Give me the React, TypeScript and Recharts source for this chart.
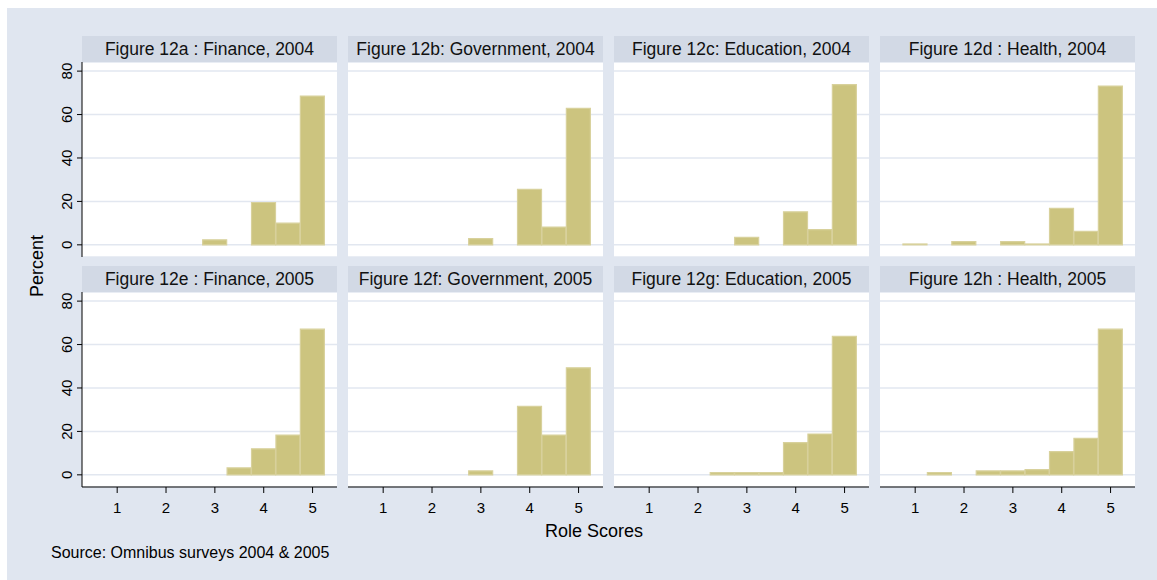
import { BarChart, Bar, XAxis, YAxis, CartesianGrid } from 'recharts'

// histogram bins (role score), half-point wide
const bins = [1, 1.5, 2, 2.5, 3, 3.5, 4, 4.5, 5]
const xTicks = [1, 2, 3, 4, 5]
const yTicks = [0, 20, 40, 60, 80]

const titles = [
  'Figure 12a : Finance, 2004',
  'Figure 12b: Government, 2004',
  'Figure 12c: Education, 2004',
  'Figure 12d : Health, 2004',
  'Figure 12e : Finance, 2005',
  'Figure 12f: Government, 2005',
  'Figure 12g: Education, 2005',
  'Figure 12h : Health, 2005',
]

// percent per bin, null = no bar
const finance2004 = [null, null, null, null, 2.3, null, 19.5, 10.0, 68.5]
const government2004 = [null, null, null, null, 2.9, null, 25.5, 8.2, 62.9]
const education2004 = [null, null, null, null, 3.5, null, 15.2, 7.0, 73.8]
const health2004 = [0.4, null, 1.5, null, 1.5, 0.4, 16.8, 6.2, 73.1]
const finance2005 = [null, null, null, null, null, 3.2, 12.0, 18.3, 67.1]
const government2005 = [null, null, null, null, 1.8, null, 31.5, 18.3, 49.3]
const education2005 = [null, null, null, 1.0, 1.0, 1.0, 14.8, 18.8, 63.8]
const health2005 = [null, 1.0, null, 1.8, 1.8, 2.4, 10.7, 16.8, 67.1]

const series = [
  finance2004, government2004, education2004, health2004,
  finance2005, government2005, education2005, health2005,
]

const FONT = '"Liberation Sans", Arial, sans-serif'
const BG = '#E0E6F0'
const HEADER_BG = '#D2D9E5'
const GRID = '#E2E7F0'
const BAR_FILL = '#CCC47F'
const BAR_LINE = '#D8D19C'

const PLOT_LEFT = 82
const PLOT_STEP = 266
const PLOT_W = 255
const PLOT_H = 195
const HEADER_H = 26
const ROW_TOP = [62, 292]
const Y_AXIS_W = 60
const X_AXIS_H = 40

function RotatedTick(props: any) {
  const { x, y, payload } = props
  return (
    <text
      x={x}
      y={y}
      transform={`rotate(-90 ${x} ${y})`}
      textAnchor="middle"
      fontSize={15}
      fontFamily={FONT}
      fill="#000"
    >
      {payload.value}
    </text>
  )
}

function Panel({ idx }: { idx: number }) {
  const col = idx % 4
  const row = Math.floor(idx / 4)
  const showY = col === 0
  const showX = row === 1
  const left = PLOT_LEFT + col * PLOT_STEP
  const top = ROW_TOP[row]
  const data = bins.map((b, i) => ({ bin: b, pct: series[idx][i] }))

  return (
    <>
      <div
        style={{
          position: 'absolute',
          left,
          top: top - HEADER_H,
          width: PLOT_W,
          height: HEADER_H,
          background: HEADER_BG,
          fontFamily: FONT,
          fontSize: 17.5,
          lineHeight: `${HEADER_H}px`,
          textAlign: 'center',
          color: '#111',
          whiteSpace: 'nowrap',
        }}
      >
        {titles[idx]}
      </div>
      <div style={{ position: 'absolute', left: showY ? left - Y_AXIS_W : left, top }}>
        <BarChart
          width={PLOT_W + (showY ? Y_AXIS_W : 0)}
          height={PLOT_H + (showX ? X_AXIS_H : 0)}
          data={data}
          margin={{ top: 0, right: 0, bottom: 0, left: 0 }}
          barCategoryGap={0}
          barGap={0}
        >
          <CartesianGrid vertical={false} stroke={GRID} strokeWidth={1.5} fill="#fff" />
          <XAxis
            dataKey="bin"
            type="number"
            domain={[0.28, 5.5]}
            ticks={xTicks}
            interval={0}
            allowDataOverflow
            hide={!showX}
            height={X_AXIS_H}
            stroke="#000"
            tickSize={6}
            tickMargin={9}
            tick={{ fill: '#000', fontSize: 15, fontFamily: FONT }}
          />
          <YAxis
            type="number"
            domain={[-5.6, 84.2]}
            ticks={yTicks}
            interval={0}
            allowDataOverflow
            hide={!showY}
            width={Y_AXIS_W}
            stroke="#000"
            tickSize={5}
            tickMargin={5}
            tick={<RotatedTick />}
          />
          <Bar
            dataKey="pct"
            fill={BAR_FILL}
            stroke={BAR_LINE}
            strokeWidth={1.2}
            isAnimationActive={false}
          />
        </BarChart>
      </div>
    </>
  )
}

export default function App() {
  return (
    <div style={{ position: 'absolute', left: 0, top: 0, width: 1157, height: 580, background: '#fff' }}>
      <div style={{ position: 'absolute', left: 7, top: 8, right: 0, bottom: 0, background: BG }} />
      {titles.map((_, i) => (
        <Panel key={i} idx={i} />
      ))}
      <svg
        width={1157}
        height={580}
        style={{ position: 'absolute', left: 0, top: 0, pointerEvents: 'none' }}
      >
        <text
          x={43}
          y={266}
          transform="rotate(-90 43 266)"
          textAnchor="middle"
          fontSize={18}
          fontFamily={FONT}
          fill="#000"
        >
          Percent
        </text>
        <text x={594} y={537} textAnchor="middle" fontSize={18} fontFamily={FONT} fill="#000">
          Role Scores
        </text>
        <text x={51} y={558} fontSize={16} fontFamily={FONT} fill="#000">
          Source: Omnibus surveys 2004 &amp; 2005
        </text>
      </svg>
    </div>
  )
}
